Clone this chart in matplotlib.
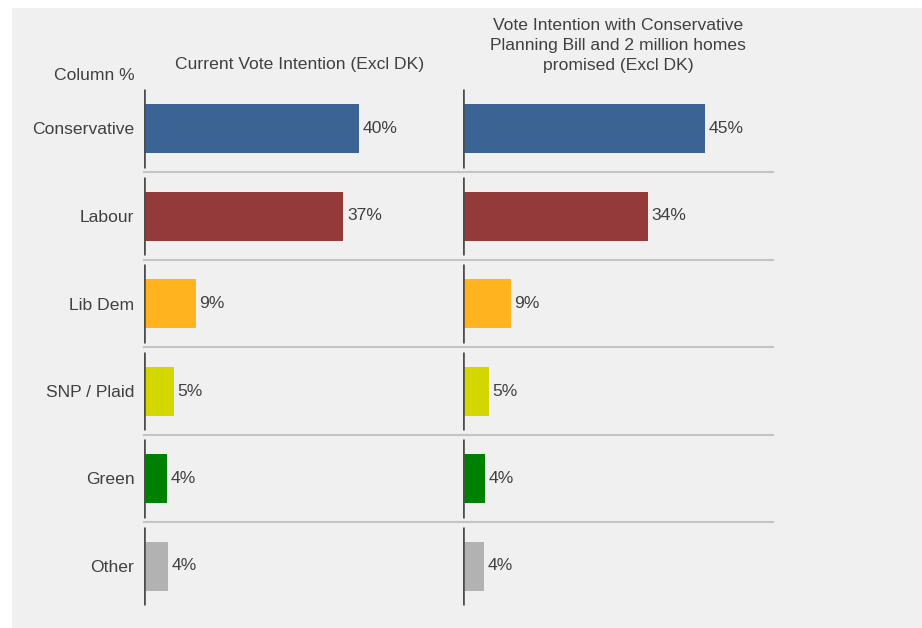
import numpy as np
import matplotlib
matplotlib.use("Agg")
import matplotlib.pyplot as plt
from matplotlib.patches import Rectangle

plt.rcParams['font.family'] = ['Liberation Sans', 'DejaVu Sans']

parties = ['Conservative', 'Labour', 'Lib Dem', 'SNP / Plaid', 'Green', 'Other']
current = [40.0, 37.1, 9.6, 5.5, 4.3, 4.4]
current_labels = ['40%', '37%', '9%', '5%', '4%', '4%']
with_bill = [45.0, 34.4, 8.9, 4.8, 4.1, 3.9]
with_bill_labels = ['45%', '34%', '9%', '5%', '4%', '4%']
colors = ['#3b6494', '#953a3a', '#ffb31f', '#d4d600', '#008000', '#b2b2b2']
titles = ['Current Vote Intention (Excl DK)',
          'Vote Intention with Conservative\nPlanning Bill and 2 million homes\npromised (Excl DK)']

txt = '#404040'
bg = '#f0f0f0'
W, H = 922, 628
fs = 12.6

fig = plt.figure(figsize=(W / 100, H / 100), dpi=100)
fig.add_artist(Rectangle((12 / W, 0), 1 - 12 / W, 1 - 8 / H,
                         transform=fig.transFigure, facecolor=bg,
                         edgecolor='none', zorder=-10))

bottom = 1 - 609.75 / H
height = (609.75 - 84.75) / H
ax1 = fig.add_axes([144 / W, bottom, 311 / W, height])
ax2 = fig.add_axes([463 / W, bottom, 310 / W, height])

y = np.arange(len(parties))
px_per_pct = 5.375
gap = 4.3 / 87.5

for ax, vals, labs, width_px in [(ax1, current, current_labels, 311),
                                 (ax2, with_bill, with_bill_labels, 310)]:
    ax.set_facecolor('none')
    ax.barh(y, vals, height=0.56, color=colors, zorder=3)
    for yi, v, lab in zip(y, vals, labs):
        ax.annotate(lab, (v, yi), xytext=(2.6, 0), textcoords='offset points',
                    va='center', ha='left', fontsize=fs, color=txt)
    # vertical axis segments per row
    ax.vlines(np.zeros(len(y)), y - 0.5 + gap, y + 0.5 - gap,
              color='#4d4d4d', linewidth=1.9, zorder=4)
    ax.set_xlim(0, width_px / px_per_pct)
    ax.set_ylim(len(y) - 0.5, -0.5)
    for s in ax.spines.values():
        s.set_visible(False)
    ax.set_xticks([])
    ax.tick_params(axis='y', length=0)

ax1.set_yticks(y)
ax1.set_yticklabels(parties, fontsize=fs, color=txt)
ax1.tick_params(axis='y', pad=7)
ax2.set_yticks([])

# row separators spanning both panels
for b in y[:-1] + 0.5:
    ax1.plot([0, (773 - 144) / 311], [b, b], transform=ax1.get_yaxis_transform(),
             color='#c4c4c4', linewidth=1.5, clip_on=False, zorder=2)

fig.text(299.5 / W, 1 - 65 / H, titles[0], ha='center', va='center',
         fontsize=fs, color=txt)
fig.text(618 / W, 1 - 45.5 / H, titles[1], ha='center', va='center',
         fontsize=fs, color=txt, linespacing=1.4)
fig.text(134.5 / W, 1 - 75 / H, 'Column %', ha='right', va='center',
         fontsize=fs, color=txt)

fig.savefig('out.png', dpi=100, facecolor='white')
